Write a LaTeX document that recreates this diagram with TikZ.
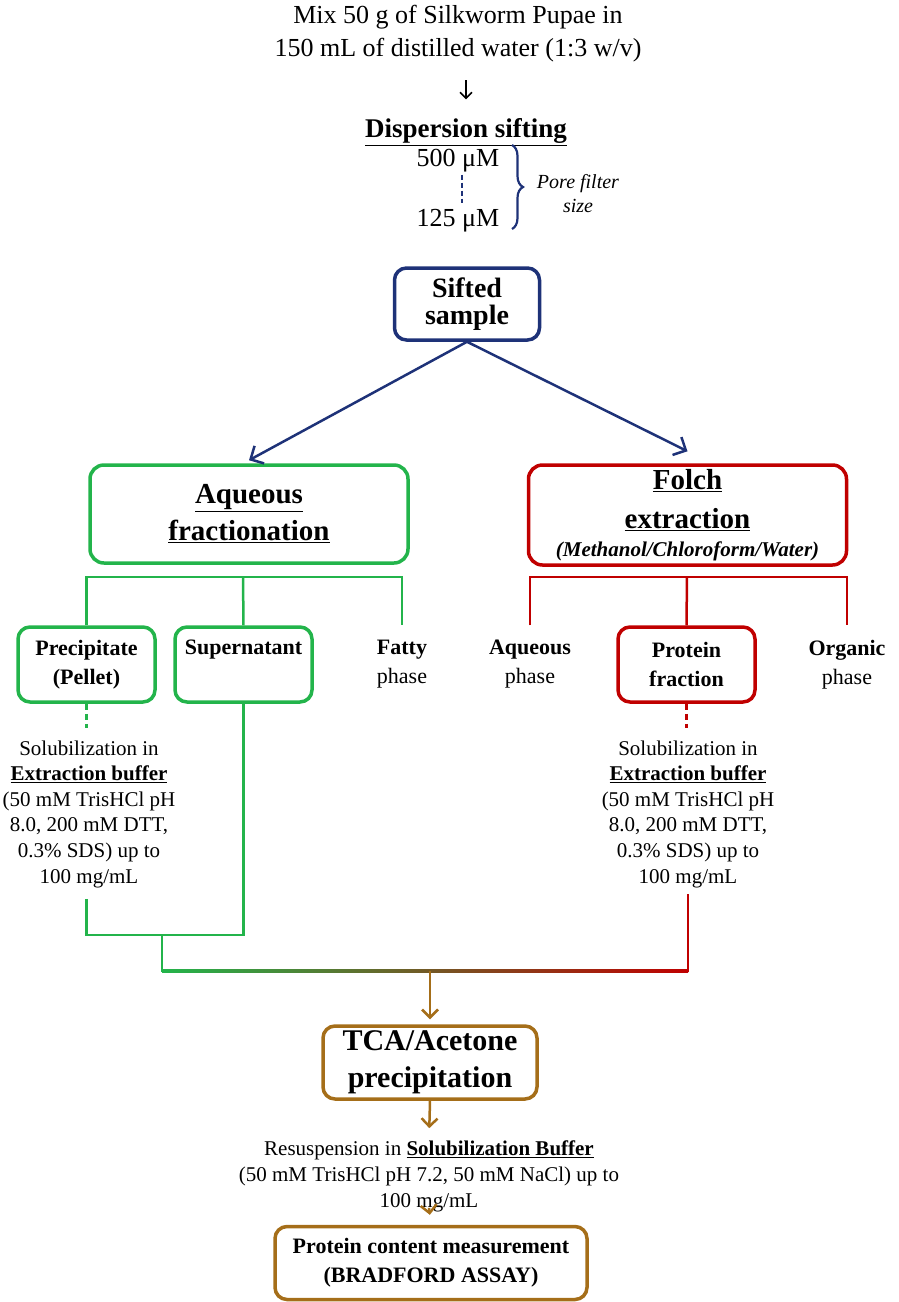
\documentclass[tikz,border=0pt]{standalone}
\usepackage{fontspec}
\setmainfont{Liberation Serif}
\usetikzlibrary{positioning,arrows.meta,decorations.pathreplacing,calc}
\definecolor{siftblue}{RGB}{30,50,120}
\definecolor{aqgreen}{RGB}{35,180,75}
\definecolor{folred}{RGB}{192,0,0}
\definecolor{tcabrown}{RGB}{165,110,25}
\newcommand{\fs}[2]{\fontsize{#1}{#2}\selectfont}
\tikzstyle{siftbox}=[rectangle, rounded corners=12pt, draw=siftblue, line width=3.5pt, minimum width=145pt,
minimum height=72pt, inner sep=2pt, align=center, font=\fs{28}{27}\bfseries]
\tikzstyle{bigbox}=[rectangle, rounded corners=14pt, line width=3.5pt, minimum width=318pt, minimum height=98pt,
inner sep=2pt, align=center]
\tikzstyle{fracbox}=[rectangle, rounded corners=12pt, line width=3.5pt, minimum width=137pt, minimum height=75pt,
inner sep=2pt, align=center, font=\fs{22}{29}]
\tikzstyle{tcabox}=[rectangle, rounded corners=12pt, draw=tcabrown, line width=3.5pt, inner sep=1pt, align=center]
\tikzstyle{txt}=[align=center, inner sep=0pt]
\tikzstyle{gline}=[-, draw=aqgreen, line width=2.5pt]
\tikzstyle{rline}=[-, draw=folred, line width=2.5pt]
\tikzstyle{barr}=[draw=tcabrown, line width=2.5pt, -{Straight Barb[length=8pt,width=16pt]}]
\tikzstyle{narr}=[draw=siftblue, line width=2.5pt, -{Straight Barb[length=10pt,width=20pt]}]
\tikzstyle{karr}=[draw=black, line width=1.5pt, -{Straight Barb[length=6pt,width=12pt]}]

\begin{document}
\begin{tikzpicture}[x=1pt,y=-1pt]
\useasboundingbox (0,0) rectangle (898,1302);

    \node (mix)[txt, font=\fs{26}{33}] at (458,33.4) {Mix 50 g of Silkworm Pupae in\\150 mL of distilled water (1:3 w/v)};
    \node (disp)[txt, font=\fs{27}{30}\bfseries] at (466,132) {\underline{Dispersion sifting}};
    \node (big)[txt, font=\fs{26}{30}] at (458,161) {500 μM};
    \node (small)[txt, font=\fs{26}{30}] at (458,221) {125 μM};
    \node (pore)[txt, font=\fs{20}{24}\itshape] at (578,194) {Pore filter\\size};
    \coordinate (brtop) at (512,145);
    \coordinate (brbot) at (512,229);

    \node (sift)[siftbox] at (467,304) {Sifted\\sample};

    \node (aqf)[bigbox, draw=aqgreen, font=\fs{29}{37}\bfseries] at (249,514) {\underline{Aqueous}\\\underline{fractionation}};
    \node (folch)[bigbox, draw=folred, minimum height=100pt, font=\fs{29}{39}\bfseries] at (687.5,515)
        {\underline{Folch}\\\underline{extraction}\\[-11pt]{\fs{21}{26}\itshape (Methanol/Chloroform/Water)}};

    \node (prec)[fracbox, draw=aqgreen, font=\fs{22}{29}\bfseries] at (86.5,664.5) {Precipitate\\(Pellet)};
    \node (super)[fracbox, draw=aqgreen, font=\fs{22}{29}\bfseries] at (243.5,664.5) {Supernatant\\\phantom{(Pellet)}};
    \node (fatty)[fracbox] at (402,664.5) {\textbf{Fatty}\\phase};
    \node (aqph)[fracbox] at (530,664.5) {\textbf{Aqueous}\\phase};
    \node (prot)[fracbox, draw=folred, font=\fs{22}{29}\bfseries] at (686.5,664.5) {Protein\\fraction};
    \node (org)[fracbox] at (847,664.5) {\textbf{Organic}\\phase};
    \coordinate (aqbar) at (243,577);
    \coordinate (fobar) at (687,577);

    \node (solL)[txt, font=\fs{21}{25.6}] at (89,814) {Solubilization in\\\underline{\textbf{Extraction buffer}}\\(50 mM TrisHCl pH\\8.0, 200 mM DTT,\\0.3\% SDS) up to\\100 mg/mL};
    \node (solR)[txt, font=\fs{21}{25.6}] at (688,814) {Solubilization in\\\underline{\textbf{Extraction buffer}}\\(50 mM TrisHCl pH\\8.0, 200 mM DTT,\\0.3\% SDS) up to\\100 mg/mL};
    \coordinate (gjoin) at (162,935);
    \coordinate (mixL) at (162,971);
    \coordinate (mixC) at (430,971);
    \coordinate (mixR) at (688,971);

    \node (tca)[tcabox, minimum width=214pt, minimum height=73pt, font=\fs{30}{37}\bfseries] at (430,1062.5) {TCA/Acetone\\precipitation};
    \node (resus)[txt, font=\fs{21}{26}] at (429,1176) {Resuspension in \underline{\textbf{Solubilization Buffer}}\\(50 mM TrisHCl pH 7.2, 50 mM NaCl) up to\\100 mg/mL};
    \node (assay)[tcabox, minimum width=312pt, minimum height=73pt, font=\fs{22}{29}\bfseries] at (431,1263) {Protein content measurement\\(BRADFORD ASSAY)};
%Lines ..
   \draw[karr, shorten <=18pt, shorten >=19pt] (mix.south -| disp.north) -- (disp.north);
   \draw[siftblue, line width=2pt, dash pattern=on 5pt off 3pt, shorten <=2pt, shorten >=6pt] ([xshift=4pt]big.south) -- ([xshift=4pt]small.north);
   \draw[siftblue, line width=2.2pt, decorate, decoration={brace, amplitude=11pt}] (brtop) -- (brbot);

   \draw[narr] (sift.south) -- ([yshift=3pt]aqf.north);
   \draw[narr] (sift.south) -- ([yshift=12pt]folch.north);

%aqueous
   \draw[gline] (prec.north) |- (aqbar) -| (fatty.north);
   \draw[gline] (super.north) -- (aqbar);
   \draw[gline, dash pattern=on 6pt off 4pt, shorten >=12pt] (prec.south) -- (prec.south |- solL.north);
   \draw[gline] ([yshift=-11pt]solL.south -| prec.south) |- (gjoin);
   \draw[gline] (super.south) |- (gjoin);
   \draw[gline, line cap=rect] (gjoin) -- (mixL);
%folch
   \draw[rline] (aqph.north) |- (fobar) -| (org.north);
   \draw[rline] (prot.north) -- (fobar);
   \draw[rline, dash pattern=on 6pt off 4pt, shorten >=12pt] (prot.south) -- (prot.south |- solR.north);
   \draw[rline, line cap=rect] ([yshift=-7pt]solR.south) -- (mixR);
%merge
   \shade[left color=aqgreen, middle color=tcabrown, right color=folred] ([yshift=1.25pt]mixL) rectangle ([yshift=-1.25pt]mixR);
   \draw[barr, shorten >=5pt] (mixC) -- (tca.north);
   \draw[barr, shorten >=12pt] (tca.south) -- (resus.north);
   \draw[barr, shorten >=10pt] ([yshift=4pt]resus.south) -- (assay.north);

\end{tikzpicture}
\end{document}
